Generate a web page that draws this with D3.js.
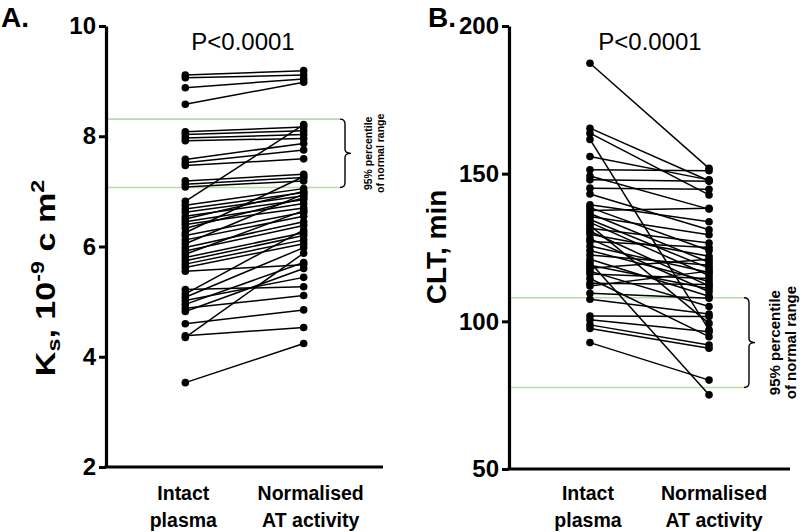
<!DOCTYPE html>
<html>
<head>
<meta charset="utf-8">
<script src="https://cdn.jsdelivr.net/npm/d3@7"></script>
<style>
  html, body { margin: 0; padding: 0; background: #fff; }
  svg { display: block; }
  text { font-family: Arial, "Liberation Sans", sans-serif; }
</style>
</head>
<body>
<svg id="chart" width="800" height="532"></svg>
<script>
// ---- data ----
const categories = ["Intact plasma", "Normalised AT activity"];
const categoryLines = [["Intact", "plasma"], ["Normalised", "AT activity"]];

const ksIntact = [9.11, 9.06, 8.88, 8.58, 8.08, 8.03, 7.97, 7.92, 7.58, 7.52, 7.47, 7.19, 7.13, 7.08,
  6.82, 6.75, 6.68, 6.62, 6.55, 6.50, 6.45, 6.40, 6.33, 6.25, 6.20, 6.12, 6.05, 5.98, 5.92, 5.86,
  5.80, 5.74, 5.68, 5.62, 5.55, 5.22, 5.14, 5.08, 5.02, 4.95, 4.88, 4.82, 4.60, 4.38, 4.35, 3.53];
const ksNormalised = [9.19, 9.11, 9.04, 8.98, 8.17, 8.10, 8.03, 7.96, 7.87, 7.75, 7.59, 7.31, 7.25, 7.19,
  8.21, 7.05, 6.98, 6.92, 6.85, 7.00, 6.78, 6.70, 6.88, 7.27, 6.62, 6.55, 6.95, 6.45, 6.38, 6.65,
  6.25, 6.20, 6.12, 6.05, 5.67, 5.27, 6.30, 5.98, 5.44, 5.71, 5.11, 5.60, 4.85, 4.53, 5.88, 4.24];

const cltIntact = [187.4, 165.4, 163.7, 161.6, 155.8, 151.3, 149.2, 147.9, 145.1, 143.1,
  139.5, 138.5, 137.5, 136.5, 135.5, 134.5, 133.5, 132.5, 131.5, 130.5, 129.5, 128.0, 127.0,
  125.5, 124.0, 122.5, 121.0, 120.0, 119.0, 118.0, 117.0, 116.0, 114.5, 112.9, 112.0, 109.5,
  107.5, 101.8, 100.5, 98.8, 97.6, 92.8];
const cltNormalised = [151.8, 147.6, 142.8, 97.1, 147.9, 151.0, 138.0, 147.4, 144.7, 131.0,
  133.7, 124.0, 138.3, 120.0, 129.3, 118.0, 115.5, 99.3, 126.5, 112.0, 122.0, 110.0, 125.0,
  116.5, 113.5, 119.0, 108.5, 75.1, 111.0, 121.0, 105.0, 114.5, 94.8, 112.5, 117.0, 107.8,
  102.5, 101.6, 96.5, 92.0, 90.9, 80.1];

const ksTicks = [2, 4, 6, 8, 10];
const cltTicks = [50, 100, 150, 200];
const ksNormalRange = [7.07, 8.31];
const cltNormalRange = [77.6, 108];
const pValueText = "P<0.0001";
const rangeLabel = ["95% percentile", "of normal range"];

// ---- drawing ----
const svg = d3.select("#chart");

function panel(cfg) {
  const g = svg.append("g");
  const x = d3.scalePoint().domain(categories).range([cfg.x0, cfg.x1]).padding(cfg.pad);
  const y = d3.scaleLinear().domain(cfg.domain).range([cfg.yBottom, cfg.yTop]);

  // normal range lines
  g.selectAll("line.range").data(cfg.range).enter().append("line")
    .attr("x1", cfg.x0).attr("x2", cfg.rangeEnd)
    .attr("y1", d => y(d)).attr("y2", d => y(d))
    .attr("stroke", "#b9dca4").attr("stroke-width", 1.6);

  // bracket
  const yt = y(cfg.range[1]), yb = y(cfg.range[0]), ym = (yt + yb) / 2;
  const bx = cfg.rangeEnd, bv = bx + 5, tip = bx + 11;
  g.append("path")
    .attr("d", `M${bx},${yt} Q${bv},${yt} ${bv},${yt + 5} L${bv},${ym - 4} Q${bv},${ym} ${tip},${ym} Q${bv},${ym} ${bv},${ym + 4} L${bv},${yb - 5} Q${bv},${yb} ${bx},${yb}`)
    .attr("fill", "none").attr("stroke", "#000").attr("stroke-width", 1.4);
  rangeLabel.forEach((t, i) => {
    g.append("text")
      .attr("transform", `translate(${cfg.labelX[i]},${ym}) rotate(-90)`)
      .attr("text-anchor", "middle")
      .attr("font-weight", "bold").attr("font-size", cfg.labelSize)
      .text(t);
  });

  // pair lines
  const pairs = cfg.a.map((v, i) => [v, cfg.b[i]]);
  g.selectAll("line.pair").data(pairs).enter().append("line")
    .attr("x1", x(categories[0])).attr("x2", x(categories[1]))
    .attr("y1", d => y(d[0])).attr("y2", d => y(d[1]))
    .attr("stroke", "#000").attr("stroke-width", 1.5);
  const pts = [];
  pairs.forEach(p => { pts.push([categories[0], p[0]]); pts.push([categories[1], p[1]]); });
  g.selectAll("circle").data(pts).enter().append("circle")
    .attr("cx", d => x(d[0])).attr("cy", d => y(d[1])).attr("r", 3.8).attr("fill", "#000");

  // y axis
  const ay = g.append("g").attr("transform", `translate(${cfg.x0},0)`)
    .call(d3.axisLeft(y).tickValues(cfg.ticks).tickSize(7).tickSizeOuter(0).tickPadding(3));
  ay.select(".domain").attr("stroke-width", 3.2);
  ay.selectAll(".tick line").attr("stroke-width", 3);
  ay.selectAll(".tick text").attr("font-size", 24).attr("font-weight", "bold")
    .attr("font-family", "Arial, 'Liberation Sans', sans-serif").attr("fill", "#000");

  // x axis line
  const ax = g.append("g").attr("transform", `translate(0,${cfg.yBottom})`)
    .call(d3.axisBottom(x).tickSize(0).tickFormat(""));
  ax.select(".domain").attr("stroke-width", 3.2)
    .attr("d", `M${cfg.x0 - 1.5},0H${cfg.x1}`);

  // category labels
  categoryLines.forEach((lines, i) => {
    const t = g.append("text")
      .attr("text-anchor", "middle")
      .attr("font-family", "Lato, 'Open Sans', sans-serif")
      .attr("font-weight", "bold").attr("font-size", 19.5);
    lines.forEach((l, j) => {
      t.append("tspan").attr("x", x(categories[i]) + cfg.catDx[i]).attr("y", 500 + j * 27).text(l);
    });
  });

  // p value
  g.append("text").attr("x", cfg.pX).attr("y", 50).attr("text-anchor", "middle")
    .attr("font-size", 24).text(pValueText);

  // panel letter
  g.append("text").attr("x", cfg.letterX).attr("y", 27)
    .attr("font-size", 28).attr("font-weight", "bold").text(cfg.letter);

  return g;
}

const gA = panel({
  x0: 106, x1: 383, pad: 0.67, domain: [2, 10], yBottom: 467, yTop: 26,
  a: ksIntact, b: ksNormalised, ticks: ksTicks, range: ksNormalRange,
  rangeEnd: 340, labelX: [372, 384], labelSize: 10.5, pX: 243, letter: "A.", letterX: 1,
  catDx: [-2, 7]
});
const gB = panel({
  x0: 509, x1: 790, pad: 0.68, domain: [50, 200], yBottom: 469, yTop: 26,
  a: cltIntact, b: cltNormalised, ticks: cltTicks, range: cltNormalRange,
  rangeEnd: 744, labelX: [780, 796], labelSize: 15, pX: 650, letter: "B.", letterX: 428,
  catDx: [-2, 5]
});

// y axis titles
const tA = svg.append("text")
  .attr("transform", "translate(55,278) rotate(-90) scale(1.22,1)")
  .attr("text-anchor", "middle")
  .attr("font-weight", "bold").attr("font-size", 28);
tA.append("tspan").text("K");
tA.append("tspan").attr("font-size", 19).attr("dy", 5).text("s");
tA.append("tspan").attr("dy", -5).text(", 10");
tA.append("tspan").attr("font-size", 19).attr("dy", -11).text("-9");
tA.append("tspan").attr("dy", 11).text(" c m");
tA.append("tspan").attr("font-size", 19).attr("dy", -11).text("2");

svg.append("text")
  .attr("transform", "translate(446,247) rotate(-90)")
  .attr("text-anchor", "middle")
  .attr("font-weight", "bold").attr("font-size", 28)
  .text("CLT, min");
</script>
</body>
</html>
